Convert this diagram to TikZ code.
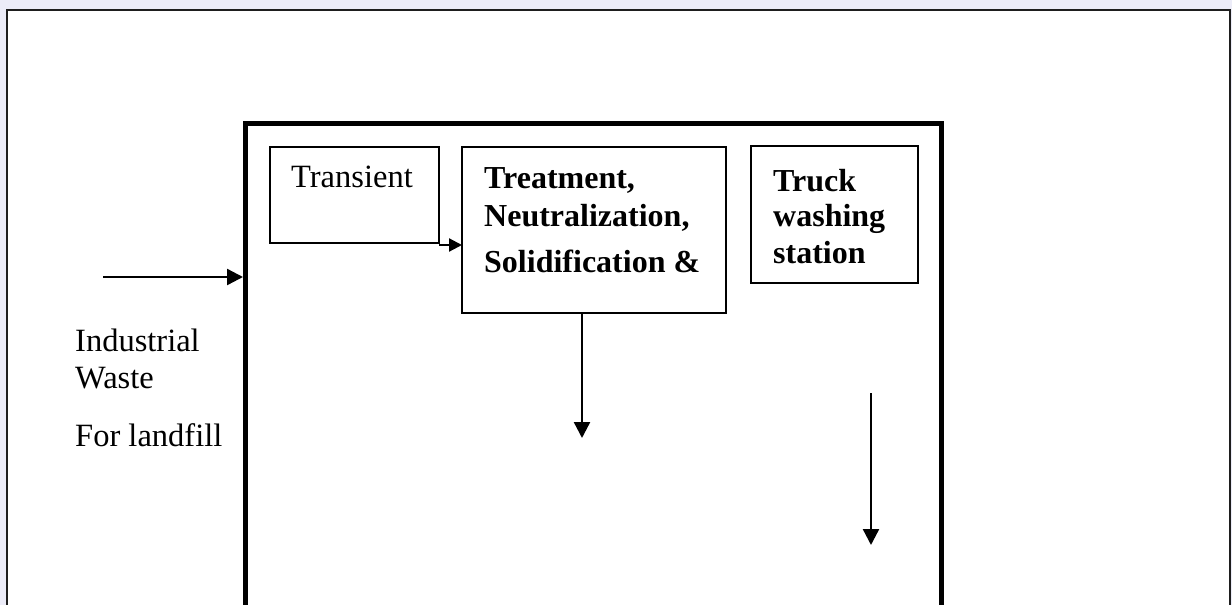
\documentclass[tikz,border=0pt]{standalone}
\usepackage{fontspec}
\setmainfont{Liberation Serif}
\usetikzlibrary{arrows.meta}
\definecolor{bgnoise}{RGB}{236,236,248}
\definecolor{framegray}{RGB}{30,30,30}
\tikzset{
  box/.style={draw=black, line width=1.8pt, outer sep=0pt, inner sep=0pt},
  mainbox/.style={draw=black, line width=5pt, outer sep=0pt, inner sep=0pt},
  frame/.style={draw=framegray, line width=2.5pt, fill=white, outer sep=0pt, inner sep=0pt},
  arr/.style={line width=2.4pt, -{Triangle[length=16pt,width=16pt]}},
  sarr/.style={line width=2.2pt, -{Triangle[length=13pt,width=13pt]}},
  lbl/.style={anchor=base west, inner sep=0pt, font=\fontsize{32.5}{38}\selectfont},
  blbl/.style={lbl, font=\fontsize{32}{38}\selectfont\bfseries}
}
\begin{document}
\begin{tikzpicture}[x=1pt,y=-1pt]
\useasboundingbox (0,0) rectangle (1232,605);
\clip (0,0) rectangle (1232,605);
\fill[bgnoise] (0,0) rectangle (1232,605);
% outer page frame
\node[frame, minimum width=1223pt, minimum height=800pt] (page) at (618.5,410) {};
% main box
\node[mainbox, minimum width=695.5pt, minimum height=677pt] (main) at (593.25,461.5) {};
% inner boxes
\node[box, minimum width=169pt, minimum height=96pt] (trans) at (354.5,195) {};
\node[box, minimum width=264pt, minimum height=166pt] (treat) at (594,230) {};
\node[box, minimum width=167pt, minimum height=137pt] (truck) at (834.5,214.5) {};
% texts
\node[lbl] (tTrans) at (291,187) {Transient};
\node[blbl] (tTreat1) at (484,188) {Treatment,};
\node[blbl] (tTreat2) at (484,226) {Neutralization,};
\node[blbl] (tTreat3) at (484,272) {Solidification \&};
\node[blbl] (tTruck1) at (773,191) {Truck};
\node[blbl] (tTruck2) at (773,226) {washing};
\node[blbl] (tTruck3) at (773,263) {station};
\node[lbl] (tInd1) at (75,351) {Industrial};
\node[lbl] (tInd2) at (75,388) {Waste};
\node[lbl] (tInd3) at (75,446) {For landfill};
% connectors
\coordinate (inStart) at (103,277);
\draw[arr] (inStart) -- ([xshift=-2.5pt]main.west |- inStart);
\coordinate (t1) at (439,245);
\draw[sarr] (t1) -- (treat.west |- t1);
\coordinate (d1) at (582,438);
\draw[arr] (treat.south -| d1) -- (d1);
\coordinate (r1) at (871,393);
\coordinate (r2) at (871,545);
\draw[arr] (r1) -- (r2);
\end{tikzpicture}
\end{document}
